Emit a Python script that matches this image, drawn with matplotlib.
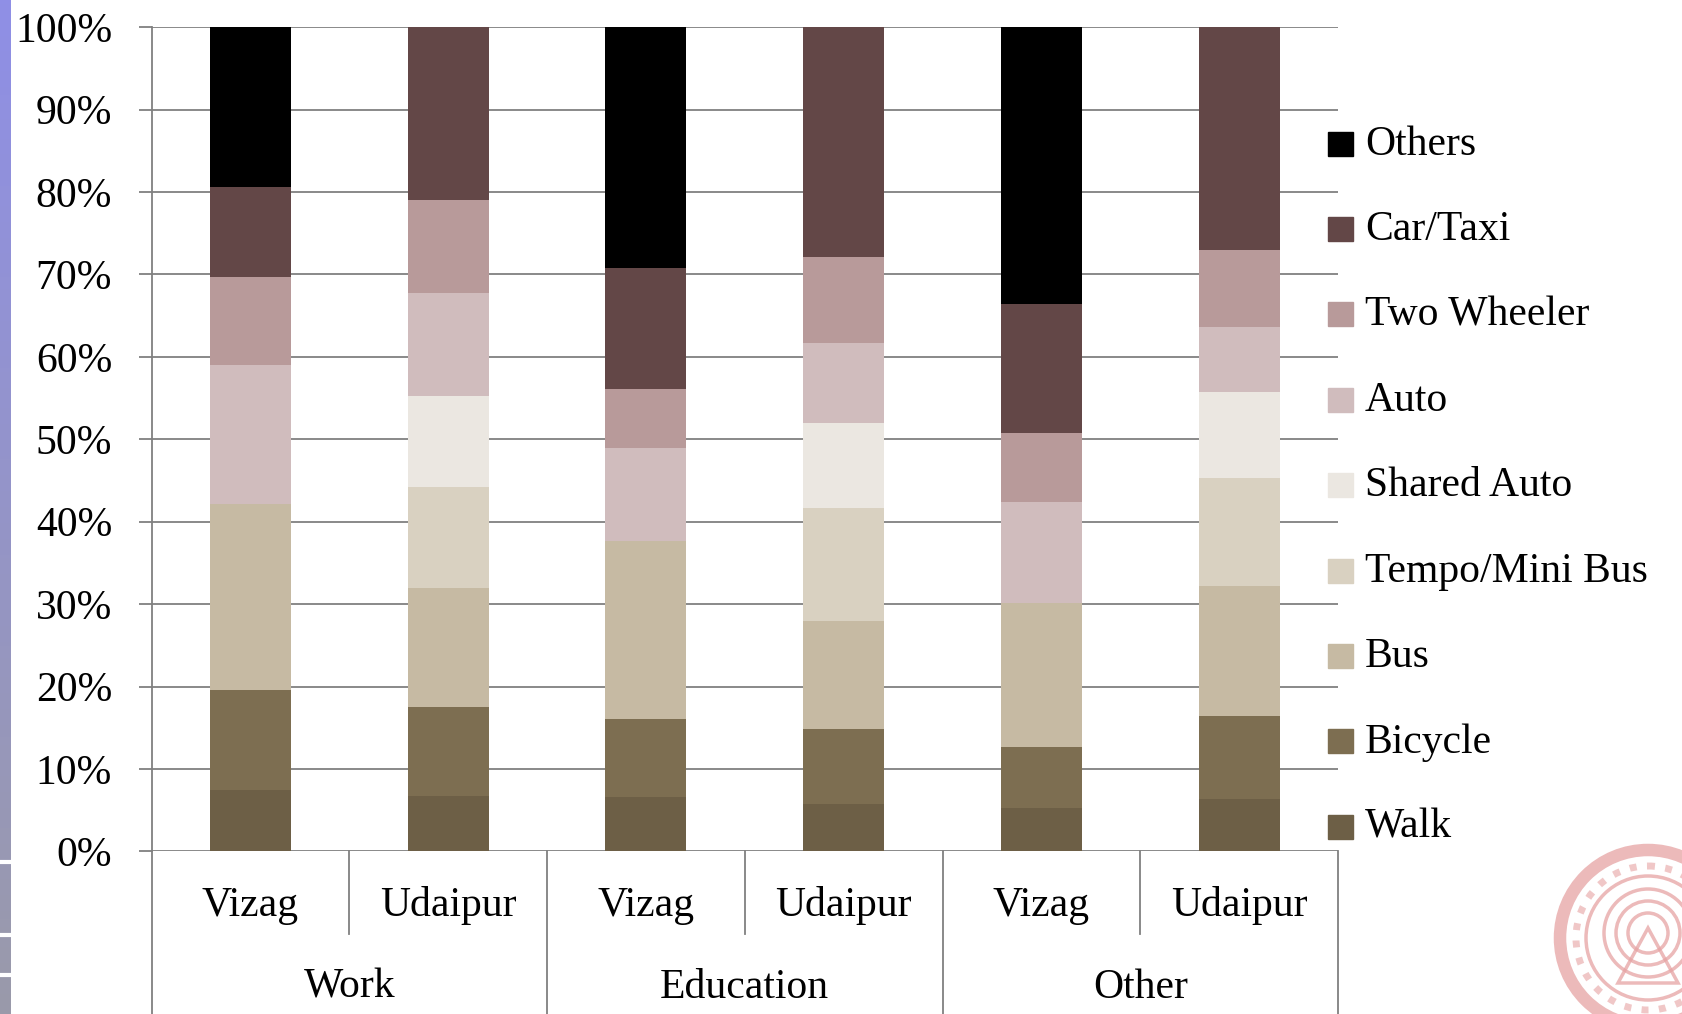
import matplotlib
matplotlib.use('Agg')
import matplotlib.pyplot as plt
import matplotlib.transforms as mtransforms
from matplotlib.patches import Rectangle, Circle, Polygon
import numpy as np

plt.rcParams['font.family'] = ['Liberation Serif', 'DejaVu Serif']

# mode share (%) by trip purpose and city
cities = ['Vizag', 'Udaipur', 'Vizag', 'Udaipur', 'Vizag', 'Udaipur']
purposes = ['Work', 'Education', 'Other']
modes = ['Walk', 'Bicycle', 'Bus', 'Tempo/Mini Bus', 'Shared Auto',
         'Auto', 'Two Wheeler', 'Car/Taxi', 'Others']

walk = [7.5, 6.7, 6.6, 5.8, 5.3, 6.3]
bicycle = [12.1, 10.8, 9.5, 9.1, 7.4, 10.1]
bus = [22.6, 14.5, 21.6, 13.0, 17.4, 15.8]
tempo = [0, 12.2, 0, 13.8, 0, 13.1]
shared_auto = [0, 11.1, 0, 10.3, 0, 10.5]
auto = [16.8, 12.5, 11.2, 9.7, 12.3, 7.8]
two_wheeler = [10.7, 11.2, 7.2, 10.4, 8.4, 9.4]
car_taxi = [10.9, 21.0, 14.7, 27.9, 15.6, 27.0]
others = [19.4, 0, 29.2, 0, 33.6, 0]

colors = ['#6d5f46', '#7d6e51', '#c6baa3', '#d9d1c1', '#ebe7e1',
          '#d0bcbd', '#b89a9a', '#634747', '#000000']

series = [walk, bicycle, bus, tempo, shared_auto, auto, two_wheeler, car_taxi, others]

W, H = 1682, 1014
FS = 30
fig = plt.figure(figsize=(W / 100, H / 100), dpi=100)
fig.patch.set_facecolor('white')

# full-figure overlay in pixel units for slide decorations and legend
bg = fig.add_axes([0, 0, 1, 1], zorder=0)
bg.set_xlim(0, W)
bg.set_ylim(H, 0)
bg.axis('off')

ax = fig.add_axes([151.5 / W, 1 - 851.3 / H, (1338 - 151.5) / W, 824 / H], zorder=1)
ax.patch.set_visible(False)

grid_c = '#808080'
x = np.arange(len(cities))
bottom = np.zeros(len(cities))
for vals, c, name in zip(series, colors, modes):
    ax.bar(x, vals, bottom=bottom, width=0.41, color=c, zorder=3, label=name)
    bottom += np.array(vals)

ax.set_xlim(-0.5, 5.5)
ax.set_ylim(0, 100)
ax.set_yticks(np.arange(0, 101, 10))
ax.set_yticklabels([f'{v}%' for v in range(0, 101, 10)])
ax.yaxis.grid(True, color=grid_c, lw=1.3)
ax.set_axisbelow(True)
ax.set_xticks([])
ax.tick_params(axis='y', length=9.4, width=1.3, color=grid_c, pad=19, labelsize=FS)
for s in ['top', 'right', 'bottom']:
    ax.spines[s].set_visible(False)
ax.spines['left'].set_color(grid_c)
ax.spines['left'].set_linewidth(1.3)

# two-level category box below the bars
trans = mtransforms.blended_transform_factory(ax.transData, ax.transAxes)
for b in [-0.5, 1.5, 3.5, 5.5]:
    ax.plot([b, b], [0, -0.25], color=grid_c, lw=1.3, transform=trans, clip_on=False)
for b in [0.5, 2.5, 4.5]:
    ax.plot([b, b], [0, -0.1004], color=grid_c, lw=1.3, transform=trans, clip_on=False)
for i, c in enumerate(cities):
    ax.text(i, -0.066, c, transform=trans, ha='center', va='center', fontsize=FS)
for g, p in enumerate(purposes):
    ax.text(2 * g + 0.5, -0.165, p, transform=trans, ha='center', va='center', fontsize=FS)

# legend, top entry first
for k, (name, c) in enumerate(zip(modes[::-1], colors[::-1])):
    yc = 143.5 + 85.4 * k
    bg.add_patch(Rectangle((1328, yc - 12), 25, 24, color=c, zorder=2))
    bg.text(1365, yc + 1, name, ha='left', va='center', fontsize=FS, zorder=2)

# slide edge strip
grad = np.linspace(0, 1, 256)[:, None, None]
top_c = np.array([0x8f, 0x8f, 0xe6]) / 255
bot_c = np.array([0x9a, 0x9a, 0xaa]) / 255
strip = top_c * (1 - grad) + bot_c * grad
bg.imshow(strip, extent=[0, 11, H, 0], aspect='auto', zorder=1)
for yy in [862, 935, 975]:
    bg.plot([0, 10], [yy, yy], color='white', lw=3, zorder=2)

# faint institute seal in the corner
seal = '#e6a3a3'
cx, cy = 1648, 938
bg.add_patch(Circle((cx, cy), 88, fill=False, ec=seal, lw=9, alpha=0.75))
bg.add_patch(Circle((cx, cy), 72, fill=False, ec=seal, lw=5, ls=(0, (1, 1.5)), alpha=0.6))
bg.add_patch(Circle((cx, cy), 62, fill=False, ec=seal, lw=2.5, alpha=0.75))
for r in [44, 32, 20]:
    bg.add_patch(Circle((cx, cy - 5), r, fill=False, ec=seal, lw=2.5, alpha=0.75))
bg.add_patch(Polygon([[cx - 30, cy + 45], [cx, cy - 10], [cx + 30, cy + 45]],
                     closed=True, fill=False, ec=seal, lw=2.5, alpha=0.75))

fig.savefig('out.png', dpi=100)
